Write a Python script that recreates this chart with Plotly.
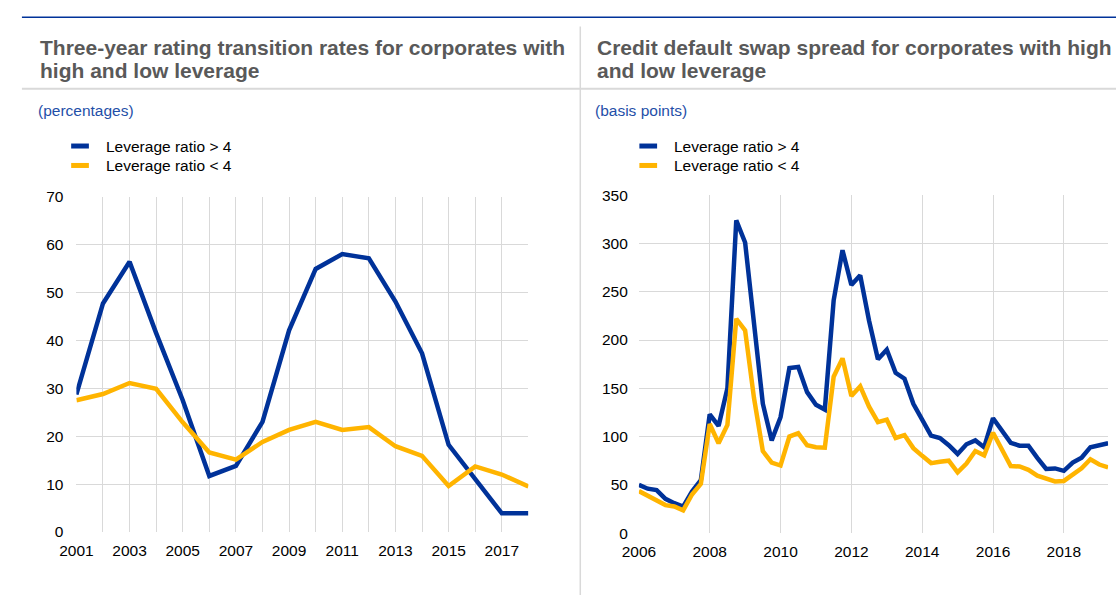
import plotly.graph_objects as go

# ---------------- data ----------------
years_left = list(range(2001, 2019))
high_lev_left = [28.7, 47.7, 56.4, 41.5, 27.5, 11.7, 13.8, 23.0, 42.1, 54.9,
                 58.0, 57.1, 48.1, 37.3, 18.2, 10.9, 3.9, 3.9]
low_lev_left = [27.5, 28.8, 31.1, 29.9, 22.9, 16.6, 15.1, 18.8, 21.3, 23.0,
                21.3, 21.9, 17.9, 15.9, 9.6, 13.7, 12.0, 9.5]
left_tick_text = [str(y) if (y - 2001) % 2 == 0 else "" for y in years_left]

quarters_right = [f"{y}Q{q}" for y in range(2006, 2020) for q in range(1, 5)][:54]
high_lev_right = [50, 46, 44.5, 35.5, 31, 27.5, 43, 55,
                  123, 111, 150, 324, 301, 221, 134, 96,
                  120, 171, 172, 146, 133, 128, 241, 293,
                  257, 267, 220, 180, 190, 166, 160, 134,
                  117, 101, 98.5, 91, 82, 92, 96, 89,
                  119, 107, 93.5, 90.5, 90.5, 78, 66.5, 67,
                  64.5, 73, 78, 89, 90.5, 93]
low_lev_right = [43.5, 39, 34.5, 29, 27.5, 23.5, 40, 51,
                 113, 93, 112, 222, 210, 140, 85, 73,
                 70, 100, 103.5, 91, 89, 88.5, 162, 181,
                 142, 152, 131, 115, 117.5, 98.5, 101.5, 88,
                 80, 72.5, 74, 75, 63, 72, 85, 80.5,
                 104, 87, 69.5, 69, 65.5, 59.5, 56, 53.5,
                 54, 61, 67, 76.5, 71, 68]
right_tick_vals = [2006, 2008, 2010, 2012, 2014, 2016, 2018]

series_names = ["Leverage ratio > 4", "Leverage ratio < 4"]
titles = [["Three-year rating transition rates for corporates with", "high and low leverage"],
          ["Credit default swap spread for corporates with high", "and low leverage"]]
units = ["(percentages)", "(basis points)"]

# ---------------- style ----------------
W, H = 1116, 603
BLUE = "#003299"
YELLOW = "#FFB400"
GRID = "#d9d9d9"
TITLE_C = "#595959"
FONT = "Liberation Sans, Arial, sans-serif"
LW = 4.5

def px_x(x):
    return x / W

def px_y(y):
    return 1 - y / H

x_right_num = [int(q[:4]) + (int(q[5]) - 1) / 4 for q in quarters_right]

fig = go.Figure()
fig.add_trace(go.Scatter(x=years_left, y=high_lev_left, mode="lines", name=series_names[0],
                         line=dict(color=BLUE, width=LW), xaxis="x", yaxis="y", showlegend=False))
fig.add_trace(go.Scatter(x=years_left, y=low_lev_left, mode="lines", name=series_names[1],
                         line=dict(color=YELLOW, width=LW), xaxis="x", yaxis="y", showlegend=False))
fig.add_trace(go.Scatter(x=x_right_num, y=high_lev_right, mode="lines", name=series_names[0],
                         line=dict(color=BLUE, width=LW), xaxis="x2", yaxis="y2", showlegend=False))
fig.add_trace(go.Scatter(x=x_right_num, y=low_lev_right, mode="lines", name=series_names[1],
                         line=dict(color=YELLOW, width=LW), xaxis="x2", yaxis="y2", showlegend=False))

axis_common = dict(showgrid=True, gridcolor=GRID, gridwidth=1, zeroline=False,
                   showline=False, ticks="", tickfont=dict(family=FONT, size=15.5, color="#000000"))

fig.update_layout(
    width=W, height=H,
    margin=dict(l=0, r=0, t=0, b=0),
    paper_bgcolor="white", plot_bgcolor="white",
    font=dict(family=FONT),
    xaxis=dict(domain=[px_x(60.3), px_x(519.3)], range=[2001, 2018],
               tickmode="array", tickvals=years_left, ticktext=left_tick_text,
               ticklabelstandoff=7, anchor="y", **axis_common),
    yaxis=dict(domain=[px_y(538.2), px_y(193)], range=[0, 70], dtick=10,
               ticklabelstandoff=12, anchor="x", **axis_common),
    xaxis2=dict(domain=[px_x(631.5), px_x(1108)], range=[2006, 2019.25],
                tickmode="array", tickvals=right_tick_vals,
                ticklabelstandoff=7, anchor="y2", **axis_common),
    yaxis2=dict(domain=[px_y(539.3), px_y(191.6)], range=[0, 350], dtick=50,
                ticklabelstandoff=10, anchor="x2", **axis_common),
)

shapes = [
    dict(type="line", xref="paper", yref="paper", x0=px_x(5), x1=1, y0=px_y(8.5), y1=px_y(8.5),
         line=dict(color=BLUE, width=1.5)),
    dict(type="line", xref="paper", yref="paper", x0=px_x(5), x1=1, y0=px_y(82), y1=px_y(82),
         line=dict(color=GRID, width=2)),
    dict(type="line", xref="paper", yref="paper", x0=px_x(572), x1=px_x(572), y0=px_y(18), y1=0,
         line=dict(color=GRID, width=1.5)),
]

annotations = []
panel_x = [21, 587]
legend_x = [55, 632]
for i in range(2):
    for j, line in enumerate(titles[i]):
        annotations.append(dict(text=f"<b>{line}</b>", xref="paper", yref="paper",
                                x=px_x(panel_x[i]), y=px_y(40 + 23 * j), xanchor="left", yanchor="middle",
                                showarrow=False, font=dict(family=FONT, size=21, color=TITLE_C)))
    annotations.append(dict(text=units[i], xref="paper", yref="paper",
                            x=px_x(panel_x[i] - 2), y=px_y(104), xanchor="left", yanchor="middle",
                            showarrow=False, font=dict(family=FONT, size=15.5, color="#1f4fa8")))
    for k, (nm, col) in enumerate(zip(series_names, [BLUE, YELLOW])):
        yy = 141 + 20 * k
        shapes.append(dict(type="line", xref="paper", yref="paper",
                           x0=px_x(legend_x[i]), x1=px_x(legend_x[i] + 18), y0=px_y(yy), y1=px_y(yy),
                           line=dict(color=col, width=5)))
        annotations.append(dict(text=nm, xref="paper", yref="paper",
                                x=px_x(legend_x[i] + 33), y=px_y(yy), xanchor="left", yanchor="middle",
                                showarrow=False, font=dict(family=FONT, size=15.5, color="#000000")))

fig.update_layout(shapes=shapes, annotations=annotations)
fig.write_html("out.html", config={"displayModeBar": False},
               post_script="document.body.style.margin='0';document.body.style.padding='0';")
